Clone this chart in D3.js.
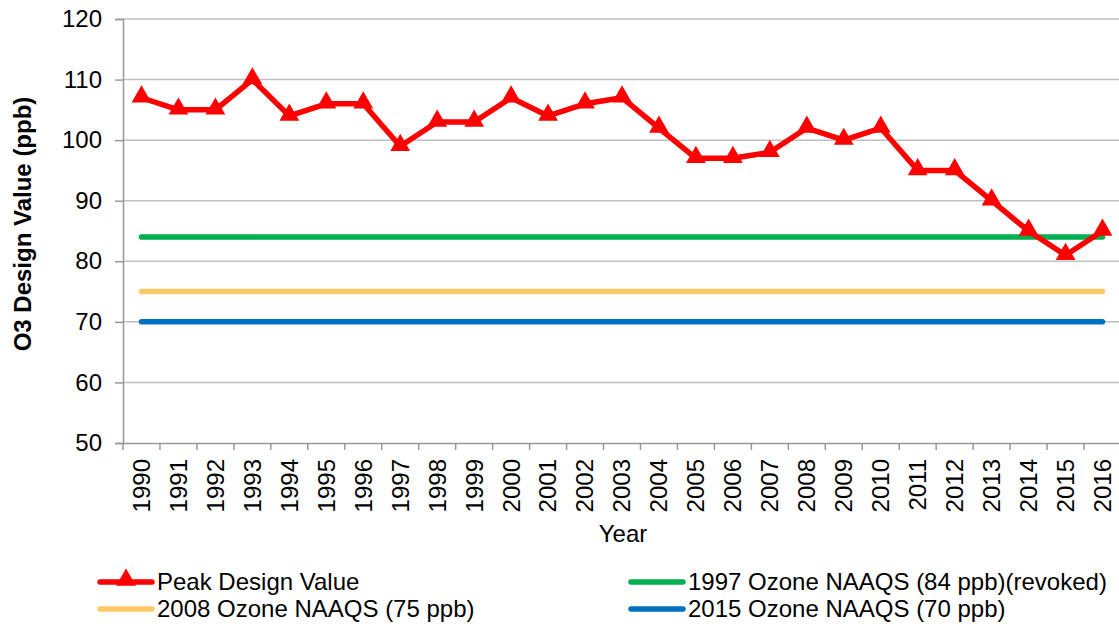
<!DOCTYPE html>
<html>
<head>
<meta charset="UTF-8">
<title>O3 Design Value</title>
<script src="https://cdn.jsdelivr.net/npm/d3@7/dist/d3.min.js"></script>
<style type="text/css">
body { margin: 0; background: #fff; }
svg { display: block; font-family: "Liberation Sans", Arial, sans-serif; }
</style>
</head>
<body>
<div class="chart"></div>
<script>
var years = ["1990","1991","1992","1993","1994","1995","1996","1997","1998","1999","2000","2001","2002","2003","2004","2005","2006","2007","2008","2009","2010","2011","2012","2013","2014","2015","2016"];
var peakValues = [107,105,105,110,104,106,106,99,103,103,107,104,106,107,102,97,97,98,102,100,102,95,95,90,85,81,85];
var naaqs1997 = 84;
var naaqs2008 = 75;
var naaqs2015 = 70;
var yTicks = [50,60,70,80,90,100,110,120];

var FONT = "Liberation Sans, Arial, sans-serif";

var svg = d3.select(".chart")
	.append("svg")
	.attr("width", 1119)
	.attr("height", 626);

var x = d3.scaleBand()
	.domain(years)
	.range([123, 1121]);

var y = d3.scaleLinear()
	.domain([50, 120])
	.range([443, 19]);

// grid
svg.append("g")
	.selectAll("line")
	.data(yTicks.slice(1))
	.enter()
	.append("line")
	.attr("x1", 123)
	.attr("x2", 1121)
	.attr("y1", function(d){ return y(d); })
	.attr("y2", function(d){ return y(d); })
	.attr("stroke", "#c0c0c0")
	.attr("stroke-width", 1.5);

// y axis
var yAxis = d3.axisLeft(y).tickValues(yTicks).tickSize(8).tickPadding(13);
var gy = svg.append("g")
	.attr("transform", "translate(123,0)")
	.call(yAxis);
gy.select(".domain").attr("stroke", "#999").attr("stroke-width", 1.5);
gy.selectAll(".tick line").attr("stroke", "#999").attr("stroke-width", 1.5);
gy.selectAll("text").attr("font-size", 24).attr("fill", "#000").attr("font-family", FONT);

// x axis
var xAxis = d3.axisBottom(x).tickSize(0).tickPadding(0);
var gx = svg.append("g")
	.attr("transform", "translate(0,443)")
	.call(xAxis);
gx.select(".domain").attr("stroke", "#999").attr("stroke-width", 1.5);
gx.selectAll(".tick text")
	.attr("font-size", 24)
	.attr("fill", "#000")
	.attr("font-family", FONT)
	.attr("transform", "rotate(-90)")
	.attr("text-anchor", "end")
	.attr("x", -16)
	.attr("y", 0)
	.attr("dy", "0.35em");
// ticks at band boundaries
gx.selectAll(".bound")
	.data(years.concat(["end"]))
	.enter()
	.append("line")
	.attr("x1", function(d, i){ return 123 + i * x.step(); })
	.attr("x2", function(d, i){ return 123 + i * x.step(); })
	.attr("y1", 0)
	.attr("y2", 7)
	.attr("stroke", "#999")
	.attr("stroke-width", 1.5);

// axis titles
svg.append("text")
	.attr("transform", "translate(31,224) rotate(-90)")
	.attr("text-anchor", "middle")
	.attr("font-size", 24)
	.attr("font-weight", "bold")
	.text("O3 Design Value (ppb)");

svg.append("text")
	.attr("x", 623)
	.attr("y", 542)
	.attr("text-anchor", "middle")
	.attr("font-size", 24)
	.text("Year");

// reference lines
var refs = [
	{ v: naaqs2015, c: "#0070c0" },
	{ v: naaqs2008, c: "#ffc966" },
	{ v: naaqs1997, c: "#00b050" }
];
var cx = function(d){ return x(d) + x.bandwidth() / 2; };
svg.append("g")
	.selectAll("line")
	.data(refs)
	.enter()
	.append("line")
	.attr("x1", cx(years[0]))
	.attr("x2", cx(years[years.length - 1]))
	.attr("y1", function(d){ return y(d.v); })
	.attr("y2", function(d){ return y(d.v); })
	.attr("stroke", function(d){ return d.c; })
	.attr("stroke-width", 5.5)
	.attr("stroke-linecap", "round");

// peak line
var line = d3.line()
	.x(function(d, i){ return cx(years[i]); })
	.y(function(d){ return y(d); });
svg.append("path")
	.datum(peakValues)
	.attr("d", line)
	.attr("fill", "none")
	.attr("stroke", "#ff0000")
	.attr("stroke-width", 5.5)
	.attr("stroke-linejoin", "round");

var tri = d3.symbol().type(d3.symbolTriangle).size(170);
svg.append("g")
	.selectAll("path")
	.data(peakValues)
	.enter()
	.append("path")
	.attr("d", tri)
	.attr("transform", function(d, i){ return "translate(" + cx(years[i]) + "," + (y(d) - 1) + ")"; })
	.attr("fill", "#ff0000");

// legend
var legend = [
	{ t: "Peak Design Value", c: "#ff0000", x: 97, y: 582, m: true },
	{ t: "1997 Ozone NAAQS (84 ppb)(revoked)", c: "#00b050", x: 628, y: 582, m: false },
	{ t: "2008 Ozone NAAQS (75 ppb)", c: "#ffc966", x: 97, y: 609, m: false },
	{ t: "2015 Ozone NAAQS (70 ppb)", c: "#0070c0", x: 628, y: 609, m: false }
];
var lg = svg.append("g")
	.selectAll("g")
	.data(legend)
	.enter()
	.append("g")
	.attr("transform", function(d){ return "translate(" + d.x + "," + d.y + ")"; });
lg.append("line")
	.attr("x1", 3)
	.attr("x2", 55)
	.attr("stroke", function(d){ return d.c; })
	.attr("stroke-width", 5.5)
	.attr("stroke-linecap", "round");
lg.filter(function(d){ return d.m; })
	.append("path")
	.attr("d", tri)
	.attr("transform", "translate(29,-2)")
	.attr("fill", "#ff0000");
lg.append("text")
	.attr("x", 60)
	.attr("dy", "0.35em")
	.attr("font-size", 24)
	.text(function(d){ return d.t; });
</script>
</body>
</html>
